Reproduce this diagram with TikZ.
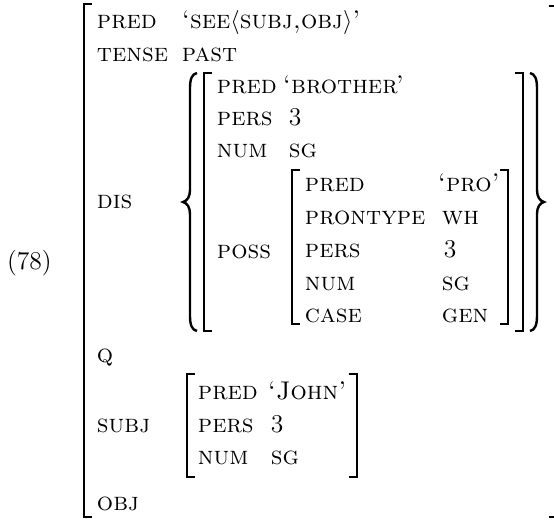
\documentclass[tikz,border=0pt]{standalone}
\begin{document}
\begin{tikzpicture}[x=0.5pt,y=-0.5pt,
  t/.style={anchor=base west, inner sep=0pt, outer sep=0pt, font=\fontsize{12.8}{15}\selectfont},
  brk/.style={line width=1.3pt, line cap=butt, line join=miter},
  brc/.style={line width=1.2pt, line cap=butt}]
\useasboundingbox (0,0) rectangle (554,520);
\clip (0,0) rectangle (554,520);

\node[t] (ex) at (7,270) {(78)};

% outer f-structure
\draw[brk] (92,4) -- (84,4) -- (84,517) -- (92,517);
\draw[brk] (549,6) -- (558,6) -- (558,517) -- (549,517);

\node[t] (pred) at (97,28) {\textsc{pred}};
\node[t] (predv) at (182,28) {\textsc{‘see$\langle$subj,obj$\rangle$’}};
\node[t] (tense) at (97,61) {\textsc{tense}};
\node[t] (past) at (182,61) {\textsc{past}};
\node[t] (dis) at (97,208) {\textsc{dis}};
\node[t] (q) at (97,363) {\textsc{q}};
\node[t] (subj) at (97,432) {\textsc{subj}};
\node[t] (obj) at (97,510) {\textsc{obj}};

% set braces
\draw[brc] (197,73) .. controls (192,74) and (190,79) .. (190,88) -- (190,190)
  .. controls (190,197) and (187,201) .. (183,202)
  .. controls (187,203) and (190,207) .. (190,214) -- (190,316)
  .. controls (190,325) and (192,330) .. (197,331);
\draw[brc] (530,73) .. controls (535,74) and (537,79) .. (537,88) -- (537,190)
  .. controls (537,197) and (540,201) .. (544,202)
  .. controls (540,203) and (537,207) .. (537,214) -- (537,316)
  .. controls (537,325) and (535,330) .. (530,331);

% DIS member
\draw[brk] (212,73) -- (204,73) -- (204,331) -- (212,331);
\draw[brk] (515,73) -- (523,73) -- (523,331) -- (515,331);
\node[t] (pred1) at (217,93) {\textsc{pred}};
\node[t] (pred1v) at (283,93) {\textsc{‘brother’}};
\node[t] (pers1) at (217,125) {\textsc{pers}};
\node[t] (pers1v) at (289,125) {3};
\node[t] (num1) at (217,157) {\textsc{num}};
\node[t] (num1v) at (289,157) {\textsc{sg}};
\node[t] (poss) at (217,258) {\textsc{poss}};

% POSS value
\draw[brk] (300,170) -- (292,170) -- (292,324) -- (300,324);
\draw[brk] (500,170) -- (508,170) -- (508,324) -- (500,324);
\node[t] (pred2) at (305,191) {\textsc{pred}};
\node[t] (pred2v) at (438,191) {\textsc{‘pro’}};
\node[t] (pt2) at (305,224) {\textsc{prontype}};
\node[t] (pt2v) at (442,224) {\textsc{wh}};
\node[t] (pers2) at (305,257) {\textsc{pers}};
\node[t] (pers2v) at (444,257) {3};
\node[t] (num2) at (305,290) {\textsc{num}};
\node[t] (num2v) at (442,290) {\textsc{sg}};
\node[t] (case2) at (305,322) {\textsc{case}};
\node[t] (case2v) at (442,322) {\textsc{gen}};

% SUBJ value
\draw[brk] (195,374) -- (187,374) -- (187,477) -- (195,477);
\draw[brk] (349,374) -- (357,374) -- (357,477) -- (349,477);
\node[t] (pred3) at (198,400) {\textsc{pred}};
\node[t] (pred3v) at (268,400) {\textsc{‘John’}};
\node[t] (pers3) at (198,432) {\textsc{pers}};
\node[t] (pers3v) at (271,432) {3};
\node[t] (num3) at (198,465) {\textsc{num}};
\node[t] (num3v) at (271,465) {\textsc{sg}};
\end{tikzpicture}
\end{document}
